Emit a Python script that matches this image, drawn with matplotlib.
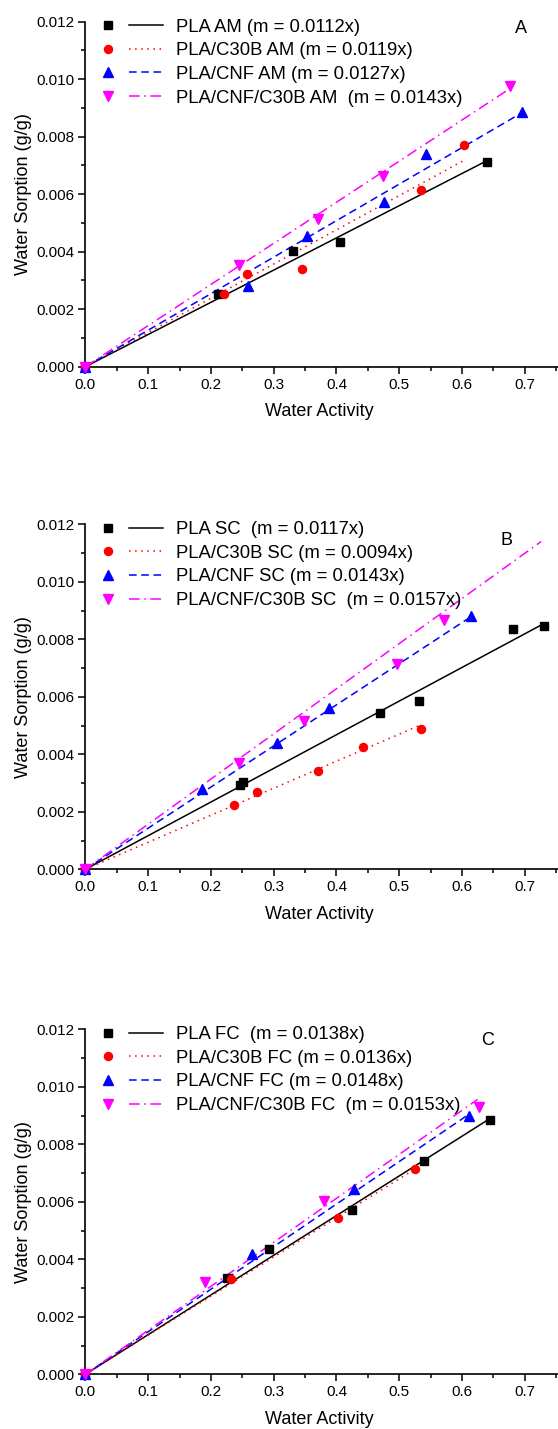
import matplotlib
matplotlib.use('Agg')
import matplotlib.pyplot as plt
import numpy as np
from matplotlib.legend_handler import HandlerTuple
from matplotlib.ticker import MultipleLocator

plt.rcParams['font.family'] = ['Liberation Sans', 'DejaVu Sans']

series_names = ['PLA', 'PLA/C30B', 'PLA/CNF', 'PLA/CNF/C30B']
panel_tags = ['AM', 'SC', 'FC']
panel_letters = ['A', 'B', 'C']

# slopes of the linear fits (m)
slopes = [
    [0.0112, 0.0119, 0.0127, 0.0143],
    [0.0117, 0.0094, 0.0143, 0.0157],
    [0.0138, 0.0136, 0.0148, 0.0153],
]
# end of each fitted line (water activity)
line_end = [
    [0.640, 0.603, 0.695, 0.676],
    [0.730, 0.535, 0.614, 0.726],
    [0.644, 0.525, 0.611, 0.625],
]

# panel A (AM)
am_x = [
    [0.0, 0.212, 0.330, 0.406, 0.640],
    [0.0, 0.221, 0.258, 0.345, 0.535, 0.603],
    [0.0, 0.259, 0.353, 0.475, 0.542, 0.695],
    [0.0, 0.244, 0.370, 0.474, 0.676],
]
am_y = [
    [0.0, 0.00253, 0.00401, 0.00433, 0.00711],
    [0.0, 0.00254, 0.00324, 0.00339, 0.00615, 0.00772],
    [0.0, 0.00282, 0.00456, 0.00573, 0.00740, 0.00885],
    [0.0, 0.00353, 0.00514, 0.00662, 0.00978],
]
# panel B (SC)
sc_x = [
    [0.0, 0.246, 0.251, 0.469, 0.532, 0.682, 0.730],
    [0.0, 0.237, 0.273, 0.370, 0.442, 0.535],
    [0.0, 0.186, 0.305, 0.388, 0.614],
    [0.0, 0.244, 0.348, 0.496, 0.571],
]
sc_y = [
    [0.0, 0.00293, 0.00304, 0.00543, 0.00585, 0.00835, 0.00846],
    [0.0, 0.00224, 0.00270, 0.00343, 0.00426, 0.00489],
    [0.0, 0.00278, 0.00440, 0.00560, 0.00881],
    [0.0, 0.00369, 0.00517, 0.00713, 0.00867],
]
# panel C (FC)
fc_x = [
    [0.0, 0.225, 0.293, 0.424, 0.539, 0.644],
    [0.0, 0.232, 0.402, 0.525],
    [0.0, 0.265, 0.428, 0.611],
    [0.0, 0.191, 0.380, 0.627],
]
fc_y = [
    [0.0, 0.00334, 0.00435, 0.00571, 0.00741, 0.00883],
    [0.0, 0.00330, 0.00544, 0.00715],
    [0.0, 0.00418, 0.00643, 0.00899],
    [0.0, 0.00322, 0.00602, 0.00930],
]

panel_x = [am_x, sc_x, fc_x]
panel_y = [am_y, sc_y, fc_y]
gaps = [['', '', '', ' '], [' ', '', '', ' '], [' ', '', '', ' ']]

colors = ['black', 'red', 'blue', 'magenta']
markers = ['s', 'o', '^', 'v']
msizes = [5.4, 5.8, 6.8, 6.8]
lstyles = ['-', (0, (1, 3)), (0, (5, 3)), (0, (7, 3, 1, 3))]

fig = plt.figure(figsize=(5.58, 14.29), dpi=100)
W, H = 558.0, 1429.0
ax_left, ax_width, ax_h = 85.4, 472.6, 345.0
bottoms = [366.7, 869.3, 1374.3]
letter_pos = [(0.922, 0.980), (0.892, 0.954), (0.851, 0.968)]

for p in range(3):
    ax = fig.add_axes([ax_left / W, (H - bottoms[p]) / H, ax_width / W, ax_h / H])
    handles = []
    labels = []
    for i in range(4):
        xe = np.linspace(0, line_end[p][i], 50)
        ln, = ax.plot(xe, slopes[p][i] * xe, color=colors[i], linestyle=lstyles[i], lw=1.1)
        pt, = ax.plot(panel_x[p][i], panel_y[p][i], linestyle='none', marker=markers[i],
                      color=colors[i], markersize=msizes[i], clip_on=False, zorder=3)
        handles.append((pt, ln))
        labels.append('%s %s%s (m = %.4fx)' % (series_names[i], panel_tags[p], gaps[p][i], slopes[p][i]))

    ax.set_xlim(0, 0.753)
    ax.set_ylim(0, 0.012)
    ax.xaxis.set_major_locator(MultipleLocator(0.1))
    ax.xaxis.set_minor_locator(MultipleLocator(0.05))
    ax.yaxis.set_major_locator(MultipleLocator(0.002))
    ax.yaxis.set_minor_locator(MultipleLocator(0.001))
    ax.xaxis.set_major_formatter(plt.FormatStrFormatter('%.1f'))
    ax.yaxis.set_major_formatter(plt.FormatStrFormatter('%.3f'))
    ax.tick_params(which='major', direction='out', length=5, width=1.1, labelsize=11, pad=3)
    ax.tick_params(which='minor', direction='out', length=3, width=1.1)
    ax.spines['top'].set_visible(False)
    ax.spines['right'].set_visible(False)
    for s in ['left', 'bottom']:
        ax.spines[s].set_linewidth(1.2)

    ax.set_xlabel('Water Activity', fontsize=13)
    ax.set_ylabel('Water Sorption (g/g)', fontsize=13)
    ax.xaxis.set_label_coords(0.496, -0.105)
    ax.yaxis.set_label_coords(-0.112, 0.5)

    ax.text(letter_pos[p][0], letter_pos[p][1], panel_letters[p], transform=ax.transAxes,
            fontsize=13, ha='center', va='center')

    ax.legend(handles, labels, handler_map={tuple: HandlerTuple(ndivide=None, pad=0.2)},
              loc='upper left', bbox_to_anchor=(0.012, 1.009), frameon=False,
              fontsize=13.3, handlelength=3.9, handletextpad=0.7, labelspacing=0.36,
              borderpad=0, borderaxespad=0)

fig.savefig('out.png', dpi=100)
